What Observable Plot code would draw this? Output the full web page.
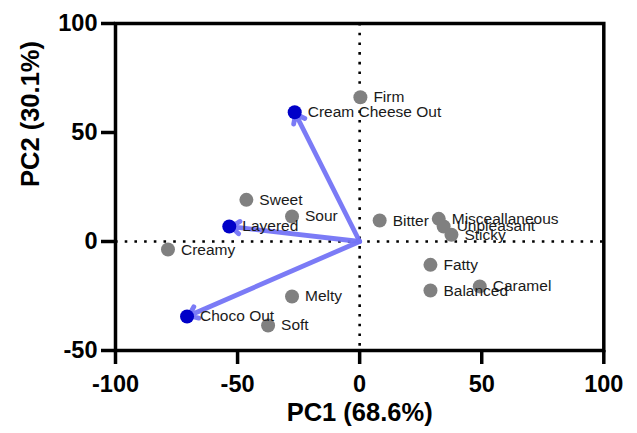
<!DOCTYPE html>
<html><head><meta charset="utf-8">
<script src="https://cdn.jsdelivr.net/npm/d3@7"></script>
<script src="https://cdn.jsdelivr.net/npm/@observablehq/plot@0.6"></script>
<style>body{margin:0;background:#fff} svg{display:block}</style>
</head><body><div id="chart"></div>
<script>
// Variables (gray scores)
const varNames = ["Firm","Sweet","Sour","Creamy","Melty","Soft","Bitter","Misceallaneous","Unpleasant","Sticky","Fatty","Balanced","Caramel"];
const varPC1   = [0.3, -46.4, -27.7, -78.5, -27.7, -37.5, 8.2, 32.4, 34.4, 37.6, 29.0, 29.0, 49.2];
const varPC2   = [66.2, 19.1, 11.5, -3.7, -25.2, -38.5, 9.6, 10.4, 6.9, 3.1, -10.7, -22.5, -20.6];
// Loadings (blue arrows)
const loadNames = ["Cream Cheese Out","Layered","Choco Out"];
const loadPC1   = [-26.6, -53.4, -70.7];
const loadPC2   = [59.3, 6.9, -34.4];
// Axes
const xTicks = [-100, -50, 0, 50, 100];
const yTicks = [-50, 0, 50, 100];
const xTitle = "PC1 (68.6%)";
const yTitle = "PC2 (30.1%)";

const vars = varNames.map((n, i) => ({name: n, x: varPC1[i], y: varPC2[i]}));
const loads = loadNames.map((n, i) => ({name: n, x: loadPC1[i], y: loadPC2[i]}));

const font = "'Liberation Sans', Arial, Helvetica, sans-serif";
const chart = Plot.plot({
  width: 637, height: 433,
  marginLeft: 115, marginRight: 33.7, marginTop: 23, marginBottom: 83,
  style: {fontFamily: font, background: "#fff", color: "black"},
  x: {domain: [-100, 100]},
  y: {domain: [-50, 100]},
  marks: [
    Plot.ruleY([0], {stroke: "black", strokeWidth: 2.6, strokeDasharray: "2.6,7.1"}),
    Plot.ruleX([0], {stroke: "black", strokeWidth: 2.6, strokeDasharray: "2.6,7.1"}),
    Plot.arrow(loads, {x1: 0, y1: 0, x2: "x", y2: "y", stroke: "#7474f6", strokeOpacity: 0.95, strokeWidth: 4.8, headLength: 3.2, headAngle: 75, insetEnd: 2}),
    Plot.dot(vars, {x: "x", y: "y", r: 7, fill: "#808080", stroke: "none"}),
    Plot.dot(loads, {x: "x", y: "y", r: 7, fill: "#0000c8", stroke: "none"}),
    Plot.text(vars, {x: "x", y: "y", text: "name", dx: 13, textAnchor: "start", fontSize: 15.5, fill: "#1a1a1a"}),
    Plot.text(loads, {x: "x", y: "y", text: "name", dx: 13, textAnchor: "start", fontSize: 15.5, fill: "#1a1a1a"}),
    Plot.frame({stroke: "black", strokeWidth: 3.5}),
    Plot.axisX({ticks: xTicks, tickFormat: d => String(d), tickSize: 14, tickPadding: 11, strokeWidth: 3.5, fontSize: 23.5, fontWeight: "bold", label: null}),
    Plot.axisY({ticks: yTicks, tickFormat: d => String(d), tickSize: 14, tickPadding: 4, strokeWidth: 3.5, fontSize: 23.5, fontWeight: "bold", label: null}),
    Plot.text([xTitle], {frameAnchor: "bottom", dy: 62, text: d => d, fontSize: 25.5, fontWeight: "bold", fill: "black", lineAnchor: "middle"}),
    Plot.text([yTitle], {frameAnchor: "left", dx: -85, text: d => d, rotate: -90, fontSize: 25.5, fontWeight: "bold", fill: "black", lineAnchor: "middle"})
  ]
});
document.getElementById("chart").appendChild(chart);
</script>
</body></html>
